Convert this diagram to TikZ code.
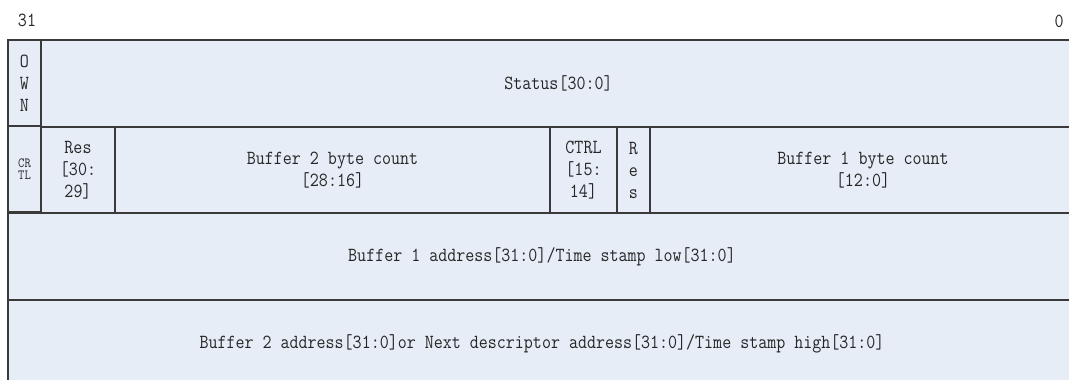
\documentclass[tikz,border=0pt]{standalone}
\usepackage{fontspec}
\usepackage{xcolor}
\newfontfamily\regfont[FakeStretch=0.875]{Latin Modern Mono}
\definecolor{regfill}{HTML}{E6EDF7}
\definecolor{regline}{HTML}{3A3A3A}
\definecolor{regtext}{HTML}{262626}

\begin{document}
\begin{tikzpicture}[
  x=1pt, y=-1pt,
  every node/.style={text=regtext, font=\regfont\fontsize{20}{22}\selectfont},
  cell/.style={rectangle, draw=regline, line width=1.2pt, fill=regfill, inner sep=0pt, align=center},
  tinycell/.style={cell, font=\regfont\fontsize{14}{12}\selectfont},
]
\useasboundingbox (0,0) rectangle (1069,380);

% bit numbers
\node (msb) at (27, 20) {31};
\node (lsb) at (1059, 21) {0};

% word 0
\node[cell, minimum width=33pt, minimum height=87pt] (own) at (24.5, 83.5) {O\\W\\N};
\node[cell, minimum width=1035pt, minimum height=87pt] (status) at (558.5, 83.5) {Status[30:0]};

% word 1
\node[tinycell, minimum width=33pt, minimum height=86pt] (crtl) at (24.5, 169) {CR\\TL};
\node[cell, minimum width=74pt, minimum height=86pt] (reshi) at (78, 170) {Res\\{}[30:\\29]};
\node[cell, minimum width=435pt, minimum height=86pt] (cnttwo) at (332.5, 170) {Buffer 2 byte count\\{}[28:16]};
\node[cell, minimum width=67pt, minimum height=86pt] (ctrl) at (583.5, 170) {CTRL\\{}[15:\\14]};
\node[cell, minimum width=33pt, minimum height=86pt] (reslo) at (633.5, 170) {R\\e\\s};
\node[cell, minimum width=426pt, minimum height=86pt] (cntone) at (863, 170) {Buffer 1 byte count\\{}[12:0]};

% word 2
\node[cell, minimum width=1068pt, minimum height=87pt] (addrone) at (542, 256.5) {Buffer 1 address[31:0]/Time stamp low[31:0]};

% word 3
\node[cell, minimum width=1068pt, minimum height=88pt] (addrtwo) at (542, 344) {Buffer 2 address[31:0]or Next descriptor address[31:0]/Time stamp high[31:0]};
\end{tikzpicture}
\end{document}
